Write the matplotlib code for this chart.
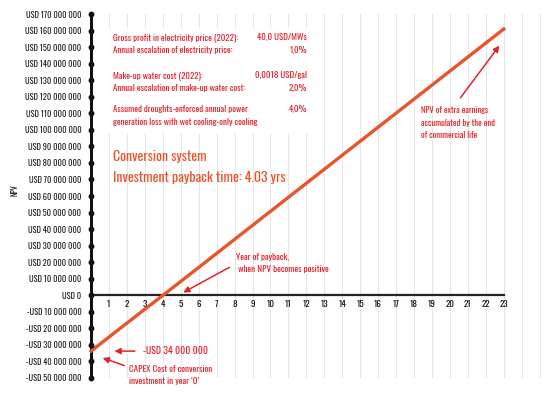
import matplotlib
matplotlib.use("Agg")
import matplotlib.pyplot as plt

# NPV of the conversion system, million USD, per year of commercial life
years = list(range(0, 24))
npv_musd = [-34.0, -25.5, -17.05, -8.6, -0.25, 8.2, 16.7, 25.2, 33.7, 42.2, 50.7, 59.2,
            67.7, 76.2, 84.7, 93.2, 101.7, 110.2, 118.7, 127.2, 135.7, 144.2, 152.7, 161.2]
y_ticks = list(range(-50, 171, 10))
x_ticks = list(range(1, 24))

assumption_labels = [
    "Gross profit in electricity price (2022):",
    "Annual escalation of electricity price:",
    "Make-up water cost (2022):",
    "Annual escalation of make-up water cost:",
    "Assumed droughts-enforced annual power\ngeneration loss with wet cooling-only cooling",
]
assumption_values = ["40,0 USD/MWs", "1,0%", "0,0018 USD/gal", "2,0%", "4,0%"]

FONT = ["Oswald", "DejaVu Sans"]
RED = "#e3212b"
ORANGE = "#e8552b"
W, H = 558, 396


def usd(v):
    if v == 0:
        return "USD 0"
    s = f"{abs(v) * 1_000_000:,}".replace(",", " ")
    return ("-" if v < 0 else "") + "USD " + s


fig = plt.figure(figsize=(W / 100, H / 100), dpi=100, facecolor="white")
ax = fig.add_axes([91 / W, (396 - 378) / H, (545 - 91) / W, (378 - 14) / H])
ax.set_xlim(0, 25.3)
ax.set_ylim(-50.3, 170.3)

for sp in ["top", "right", "bottom"]:
    ax.spines[sp].set_visible(False)
ax.spines["left"].set_linewidth(2.2)
ax.spines["left"].set_color("#111111")

# vertical grid
for x in range(1, 26):
    ax.axvline(x, color="#e6e6e6", linewidth=0.8, zorder=0)

# x axis line at zero, ending at year 23
ax.plot([0, 23], [0, 0], color="#222222", linewidth=1.6, zorder=2)
ax.plot([0] * len(y_ticks), y_ticks, "o", color="#111111", markersize=3.2,
        clip_on=False, zorder=4)

ax.set_yticks(y_ticks)
ax.set_yticklabels([usd(v) for v in y_ticks], family=FONT, fontsize=6.0, color="#222222")
ax.tick_params(axis="y", length=0, pad=7)
ax.set_xticks([])
for x in x_ticks:
    ax.text(x, -2.8, str(x), ha="center", va="top", family=FONT, fontsize=6.5,
            fontweight="bold", color="#111111")

fig.text(15 / W, 1 - 190 / H, "NPV", rotation=90, ha="center", va="center",
         family=FONT, fontsize=5.5, fontweight="bold", color="#111111")

ax.plot(years, npv_musd, color=ORANGE, linewidth=2.4, zorder=3, clip_on=False)

# assumptions box
box = plt.Rectangle((105 / W, 1 - 133 / H), (318 - 105) / W, (133 - 28) / H,
                    transform=fig.transFigure, facecolor="white", edgecolor="none", zorder=1)
fig.patches.append(box)
rows_y = [38, 51, 76, 89, 110]
for lbl, val, yy in zip(assumption_labels, assumption_values, rows_y):
    fig.text(113 / W, 1 - (yy - 5) / H, lbl, ha="left", va="top", family=FONT,
             fontsize=6.4, fontweight="bold", color=RED, linespacing=1.75)
    fig.text(307 / W, 1 - (yy - 5) / H, val, ha="right", va="top", family=FONT,
             fontsize=6.4, fontweight="bold", color=RED)

fig.text(113 / W, 1 - 157 / H, "Conversion system", ha="left", va="center",
         family=FONT, fontsize=10, fontweight="bold", color=ORANGE)
fig.text(113 / W, 1 - 177 / H, "Investment payback time: 4.03 yrs", ha="left", va="center",
         family=FONT, fontsize=10, fontweight="bold", color=ORANGE)

arrow = dict(arrowstyle="-|>", color=RED, linewidth=1.1, mutation_scale=9)
ax.annotate("", xy=(5.0, 0.7), xytext=(7.85, 17.6), arrowprops=arrow)
ax.text(8.1, 19.5, "Year of payback,\n when NPV becomes positive", ha="left", va="center",
        family=FONT, fontsize=6.5, fontweight="bold", color=RED, linespacing=1.6)

ax.annotate("", xy=(1.15, -34), xytext=(2.6, -34), arrowprops=arrow)
ax.text(2.9, -34, "-USD 34 000 000", ha="left", va="center",
        family=FONT, fontsize=7, fontweight="bold", color=RED)

ax.annotate("", xy=(0.5, -37.6), xytext=(2.0, -43.3), arrowprops=arrow)
ax.text(2.1, -48.5, "CAPEX Cost of conversion\ninvestment in year \u20180\u2019", ha="left", va="center",
        family=FONT, fontsize=6.5, fontweight="bold", color=RED, linespacing=1.6,
        clip_on=False)

ax.annotate("", xy=(22.85, 152.5), xytext=(20.5, 118.2), arrowprops=arrow)
ax.text(18.4, 104.5, "NPV of extra earnings\naccumulated by the end\nof commercial life",
        ha="left", va="center", family=FONT, fontsize=6.2, fontweight="bold", color=RED,
        linespacing=1.65)

fig.savefig("out.png", dpi=100, facecolor="white")
